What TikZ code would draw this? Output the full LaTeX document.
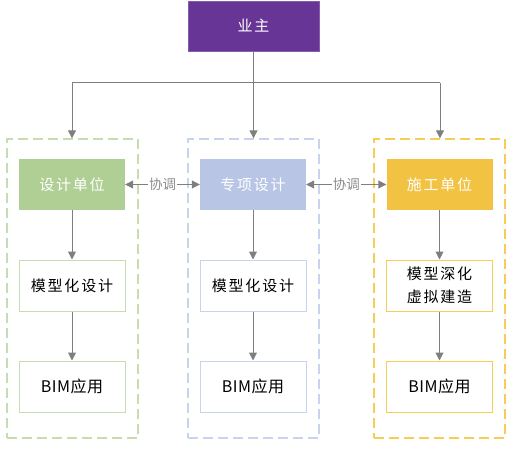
\documentclass[tikz,border=0pt]{standalone}
\usepackage{fontspec}
\setmainfont{Noto Sans CJK SC}
\newfontfamily\cjkfont{Noto Sans CJK SC}[LetterSpace=12]
\usetikzlibrary{arrows.meta,positioning}
\definecolor{ownerpurple}{HTML}{673595}
\definecolor{dgreen}{HTML}{B0CF94}
\definecolor{dblue}{HTML}{B8C5E4}
\definecolor{dyellow}{HTML}{F2C243}
\definecolor{lgreen}{HTML}{C5DDB0}
\definecolor{lblue}{HTML}{C8D3EE}
\definecolor{lyellow}{HTML}{F7CD55}
\definecolor{arrowgray}{HTML}{7F7F7F}
\definecolor{labelgray}{HTML}{8C8C8C}
\tikzset{
  headbox/.style={minimum width=106pt,minimum height=51pt,inner sep=0pt,text=white,font=\cjkfont\fontsize{15pt}{18pt}\selectfont},
  subbox/.style={draw,line width=1pt,fill=white,minimum width=106pt,minimum height=51pt,inner sep=0pt,align=center,font=\cjkfont\fontsize{15pt}{23pt}\selectfont},
  groupbox/.style={draw,dashed,line width=1.3pt,dash pattern=on 10pt off 5pt,minimum width=131pt,minimum height=299pt,inner sep=0pt},
  conn/.style={draw=arrowgray,line width=1pt,-{Triangle[width=8pt,length=8pt]}},
  bconn/.style={draw=arrowgray,line width=1pt,{Triangle[width=8pt,length=8pt]}-{Triangle[width=8pt,length=8pt]}},
  coord/.style={fill=white,inner sep=1pt,text=labelgray,font=\fontsize{13.5pt}{15pt}\selectfont}
}
\begin{document}
\begin{tikzpicture}[x=1pt,y=-1pt]
\useasboundingbox (0,0) rectangle (514,449);
% containers
\node[groupbox,draw=lgreen] (g1) at (72.5,288.5) {};
\node[groupbox,draw=lblue] (g2) at (253.5,288.5) {};
\node[groupbox,draw=lyellow] (g3) at (439.5,288.5) {};
% owner
\node[fill=ownerpurple,draw=ownerpurple!80!white,minimum width=131pt,minimum height=50pt,inner sep=0pt,text=white,font=\cjkfont\fontsize{15pt}{18pt}\selectfont] (owner) at (253.5,26) {业主};
\coordinate (split) at (253.5,83);
\coordinate (sl) at (72,83);
\coordinate (sr) at (440,83);
% head boxes
\node[headbox,fill=dgreen] (h1) at (72,184.5) {设计单位};
\node[headbox,fill=dblue] (h2) at (253,184.5) {专项设计};
\node[headbox,fill=dyellow] (h3) at (439.5,184.5) {施工单位};
% sub boxes
\node[subbox,draw=lgreen] (m1) at (72,285.5) {模型化设计};
\node[subbox,draw=lblue] (m2) at (253,285.5) {模型化设计};
\node[subbox,draw=lyellow] (m3) at (439.5,285.5) {模型深化\\虚拟建造};
\node[subbox,draw=lgreen] (b1) at (72,386.5) {\addfontfeature{LetterSpace=3}\fontsize{16pt}{18pt}\selectfont BIM应用};
\node[subbox,draw=lblue] (b2) at (253,386.5) {\addfontfeature{LetterSpace=3}\fontsize{16pt}{18pt}\selectfont BIM应用};
\node[subbox,draw=lyellow] (b3) at (439.5,386.5) {\addfontfeature{LetterSpace=3}\fontsize{16pt}{18pt}\selectfont BIM应用};
% owner connectors
\draw[draw=arrowgray,line width=1pt] (sl) -- (sr);
\draw[conn] (owner.south) -- (g2.north);
\draw[conn] (sl) -- (g1.north -| sl);
\draw[conn] (sr) -- (g3.north -| sr);
% vertical flows
\draw[conn] (h1) -- (m1);
\draw[conn] (m1) -- (b1);
\draw[conn] (h2) -- (m2);
\draw[conn] (m2) -- (b2);
\draw[conn] (h3) -- (m3);
\draw[conn] (m3) -- (b3);
% coordination
\draw[bconn] (h1.east) -- node[coord] (c1) {协调} (h2.west);
\draw[bconn] (h2.east) -- node[coord] (c2) {协调} (h3.west);
\end{tikzpicture}
\end{document}
